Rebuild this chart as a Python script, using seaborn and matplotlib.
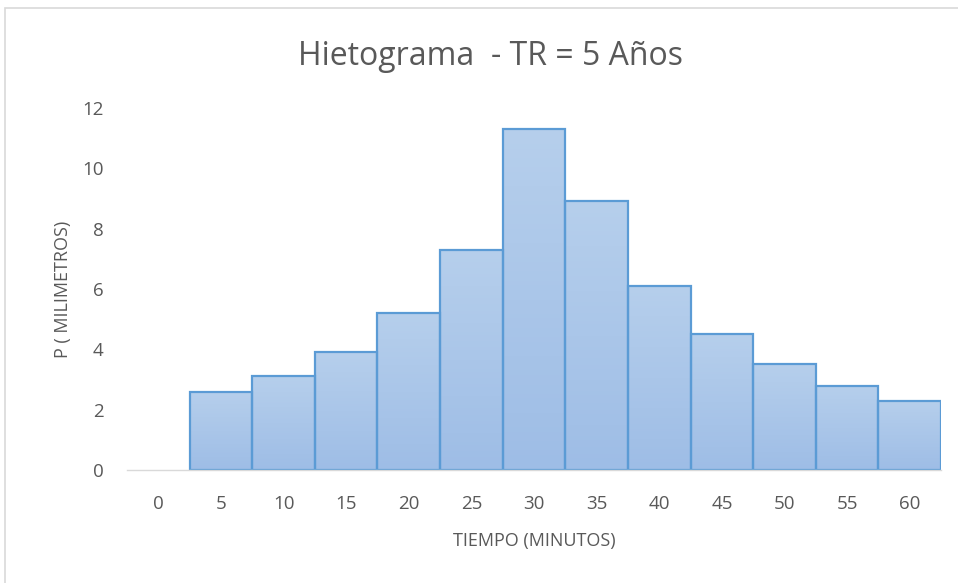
import numpy as np
import pandas as pd
import matplotlib.pyplot as plt
import seaborn as sns
from matplotlib.patches import Rectangle
from matplotlib.colors import LinearSegmentedColormap

# tiempo (min) y precipitacion (mm)
tiempo = [0, 5, 10, 15, 20, 25, 30, 35, 40, 45, 50, 55, 60]
precip = [0, 2.6, 3.1, 3.9, 5.2, 7.3, 11.3, 8.9, 6.1, 4.5, 3.5, 2.8, 2.3]
y_ticks = [0, 2, 4, 6, 8, 10, 12]

TITLE = 'Hietograma  - TR = 5 Años'
XLABEL = 'TIEMPO (MINUTOS)'
YLABEL = 'P ( MILIMETROS)'

GREY = '#595959'
EDGE = '#5b9bd5'

sns.set_style("white")
plt.rcParams['font.family'] = ['Open Sans', 'DejaVu Sans']

df = pd.DataFrame({'Tiempo': [str(t) for t in tiempo], 'P': precip})

fig = plt.figure(figsize=(9.58, 5.83), dpi=100)
ax = fig.add_axes([0.1326, 0.1938, 0.8497, 0.621])

ax = sns.barplot(x='Tiempo', y='P', data=df, color='#a9c4e8', width=1.0,
                 edgecolor=EDGE, linewidth=1.6, saturation=1, ax=ax)

# degradado tipo Excel dentro de cada barra
grad = np.linspace(0, 1, 256).reshape(-1, 1)
cmap = LinearSegmentedColormap.from_list('g', ['#9ebde6', '#b6cfec'])
for bar in ax.patches:
    h = bar.get_height()
    if h <= 0:
        bar.set_visible(False)
        continue
    x0 = bar.get_x()
    w = bar.get_width()
    im = ax.imshow(grad, cmap=cmap, aspect='auto', origin='lower',
                   extent=[x0, x0 + w, 0, h], zorder=bar.get_zorder() - 0.1)
    im.set_clip_path(bar)
    bar.set_facecolor('none')

ax.set_xlim(-0.5, len(tiempo) - 0.5)
ax.set_ylim(0, 12)
ax.set_yticks(y_ticks)
ax.set_yticklabels([str(v) for v in y_ticks])

for s in ['top', 'right', 'left']:
    ax.spines[s].set_visible(False)
ax.spines['bottom'].set_color('#d9d9d9')
ax.spines['bottom'].set_linewidth(1.0)

ax.tick_params(axis='both', length=0, labelcolor=GREY, labelsize=13.5)
ax.tick_params(axis='x', pad=18)
ax.tick_params(axis='y', pad=17)

ax.set_xlabel(XLABEL, color=GREY, fontsize=13, labelpad=14)
ax.set_ylabel(YLABEL, color=GREY, fontsize=13)
ax.yaxis.set_label_coords(-0.068, 0.5)
fig.text(0.512, 0.903, TITLE, color=GREY, fontsize=23, ha='center', va='center')

# borde del area del grafico
fig.patches.append(Rectangle((0.005, -0.05), 1.2, 1.036, transform=fig.transFigure,
                             fill=False, edgecolor='#d9d9d9', linewidth=1.2))

fig.savefig('out.png', dpi=100)
